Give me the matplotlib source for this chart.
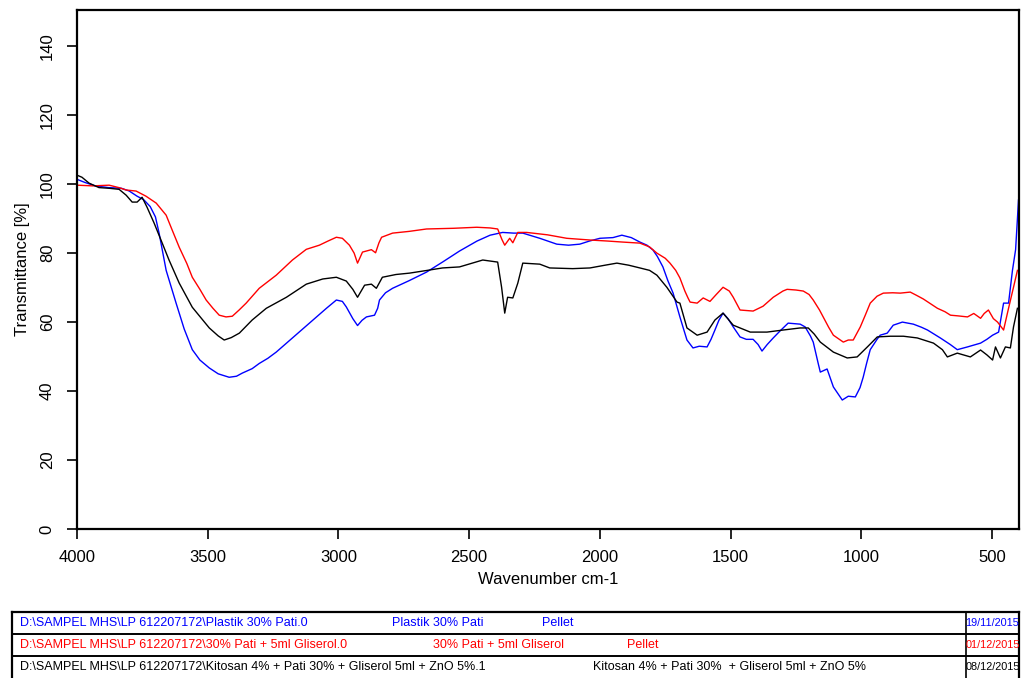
import matplotlib
matplotlib.use("Agg")
import matplotlib.pyplot as plt

plt.rcParams["font.family"] = ["Liberation Sans", "DejaVu Sans"]

# FTIR spectra (wavenumber cm-1, transmittance %)
BLUE_WN = [4000, 3970, 3930, 3880, 3830, 3800, 3770, 3745, 3720, 3700, 3686, 3659, 3621, 3590,
           3559, 3530, 3494, 3460, 3418, 3390, 3368, 3330, 3303, 3270, 3238, 3176, 3111, 3046,
           3008, 2985, 2970, 2945, 2927, 2910, 2893, 2862, 2850, 2843, 2820, 2793, 2730, 2663,
           2600, 2537, 2470, 2420, 2372, 2330, 2295, 2230, 2165, 2120, 2077, 2040, 2000, 1950,
           1916, 1880, 1847, 1820, 1797, 1780, 1759, 1740, 1720, 1694, 1680, 1667, 1644, 1620,
           1590, 1575, 1560, 1545, 1529, 1510, 1490, 1464, 1440, 1414, 1395, 1380, 1360, 1337,
           1310, 1280, 1234, 1215, 1195, 1184, 1165, 1157, 1131, 1107, 1073, 1050, 1023, 1005,
           993, 980, 966, 940, 928, 901, 878, 843, 801, 770, 747, 698, 660, 633, 594, 544, 520,
           498, 475, 456, 437, 422, 410, 403, 399]
BLUE_T = [101.4, 100.5, 99.5, 99.0, 98.8, 98.0, 96.5, 95.5, 93.5, 90.5, 85.8, 75.0, 65.5, 58.0,
          52.0, 49.0, 46.7, 45.0, 44.0, 44.3, 45.2, 46.5, 48.0, 49.5, 51.3, 55.4, 59.7, 64.0,
          66.4, 66.0, 64.4, 61.0, 59.0, 60.5, 61.5, 62.0, 64.0, 66.4, 68.5, 69.8, 72.0, 74.5,
          77.5, 80.6, 83.5, 85.2, 86.0, 85.8, 85.8, 84.3, 82.6, 82.3, 82.6, 83.5, 84.3, 84.5,
          85.2, 84.5, 83.2, 82.3, 80.9, 79.0, 76.0, 72.0, 68.4, 61.5, 58.0, 54.8, 52.5, 53.0,
          52.8, 55.0, 57.7, 60.5, 62.6, 61.0, 58.6, 55.7, 55.0, 55.0, 53.5, 51.6, 53.5, 55.4,
          57.5, 59.7, 59.4, 58.6, 56.0, 54.2, 48.0, 45.5, 46.4, 41.2, 37.4, 38.5, 38.3, 41.0,
          44.0, 48.0, 52.0, 55.0, 56.2, 56.8, 59.1, 60.0, 59.4, 58.5, 57.7, 55.4, 53.5, 52.0,
          52.8, 53.9, 55.0, 56.2, 57.1, 65.5, 65.5, 75.0, 81.0, 90.0, 95.4]

RED_WN = [4000, 3940, 3877, 3840, 3812, 3774, 3736, 3697, 3659, 3636, 3609, 3580, 3559, 3530,
          3506, 3480, 3456, 3430, 3406, 3380, 3353, 3303, 3238, 3176, 3123, 3073, 3040, 3008,
          2985, 2958, 2940, 2927, 2908, 2874, 2858, 2845, 2835, 2793, 2730, 2663, 2560, 2471,
          2420, 2391, 2375, 2364, 2345, 2333, 2314, 2280, 2200, 2127, 2038, 1970, 1912, 1847,
          1810, 1782, 1750, 1732, 1710, 1694, 1675, 1663, 1655, 1628, 1605, 1579, 1555, 1529,
          1505, 1490, 1464, 1414, 1376, 1337, 1300, 1284, 1250, 1222, 1200, 1184, 1160, 1146,
          1125, 1107, 1069, 1050, 1031, 1004, 985, 966, 940, 916, 880, 851, 813, 790, 763, 735,
          709, 680, 659, 630, 594, 570, 544, 530, 514, 495, 479, 456, 437, 418, 403]
RED_T = [99.7, 99.5, 99.7, 99.0, 98.3, 98.0, 96.5, 94.5, 91.0, 86.7, 81.7, 77.0, 73.0, 69.5,
         66.4, 64.0, 62.0, 61.5, 61.7, 63.5, 65.5, 69.8, 73.6, 78.0, 81.1, 82.3, 83.5, 84.6,
         84.3, 82.3, 80.0, 77.1, 80.3, 81.0, 80.1, 83.0, 84.6, 85.8, 86.3, 87.0, 87.2, 87.5,
         87.3, 87.0, 84.0, 82.3, 84.3, 83.0, 86.0, 86.0, 85.3, 84.3, 83.8, 83.5, 83.2, 82.9,
         81.8, 80.0, 78.5, 77.1, 75.0, 72.8, 69.0, 67.0, 65.8, 65.5, 67.0, 66.0, 68.0, 70.1,
         69.0, 67.2, 63.5, 63.2, 64.6, 67.2, 69.0, 69.5, 69.3, 69.0, 68.0, 66.4, 63.5, 61.5,
         58.5, 56.2, 54.2, 54.8, 54.8, 58.6, 62.0, 65.5, 67.5, 68.4, 68.5, 68.4, 68.7, 67.8,
         66.7, 65.3, 64.0, 63.0, 62.0, 61.8, 61.5, 62.5, 61.1, 62.5, 63.5, 61.0, 60.0, 57.7,
         64.0, 70.1, 75.0]

BLACK_WN = [4000, 3981, 3954, 3916, 3877, 3839, 3812, 3789, 3770, 3751, 3732, 3705, 3674, 3648,
            3609, 3559, 3494, 3460, 3437, 3410, 3379, 3330, 3276, 3199, 3123, 3060, 3008, 2970,
            2945, 2927, 2900, 2874, 2855, 2832, 2780, 2728, 2660, 2602, 2537, 2448, 2391, 2376,
            2364, 2353, 2333, 2314, 2295, 2230, 2192, 2104, 2038, 1980, 1935, 1890, 1847, 1810,
            1782, 1744, 1705, 1694, 1667, 1628, 1590, 1560, 1529, 1490, 1425, 1361, 1299, 1234,
            1203, 1180, 1157, 1107, 1054, 1016, 977, 939, 889, 839, 786, 724, 690, 671, 633, 583,
            544, 520, 498, 487, 468, 449, 430, 418, 403]
BLACK_T = [102.6, 102.0, 100.3, 99.0, 98.8, 98.5, 96.8, 94.8, 94.8, 96.2, 93.3, 88.7, 82.9, 78.0,
           71.3, 64.3, 58.3, 56.0, 54.8, 55.5, 56.8, 60.6, 64.0, 67.2, 71.0, 72.5, 73.0, 71.9,
           69.5, 67.2, 70.7, 71.0, 69.8, 73.0, 73.8, 74.2, 75.0, 75.7, 76.0, 78.0, 77.4, 70.1,
           62.6, 67.2, 67.0, 71.3, 77.1, 76.8, 75.7, 75.5, 75.7, 76.5, 77.1, 76.5, 75.7, 75.0,
           73.6, 70.1, 65.8, 65.5, 58.3, 56.2, 57.1, 60.6, 62.6, 59.1, 57.1, 57.1, 57.7, 58.3,
           58.3, 56.5, 54.2, 51.3, 49.6, 49.9, 52.8, 55.7, 55.9, 55.9, 55.4, 53.9, 52.0, 49.9,
           51.0, 49.9, 51.9, 50.5, 49.0, 52.8, 49.6, 52.8, 52.5, 58.6, 64.0]

X_TICKS = [4000, 3500, 3000, 2500, 2000, 1500, 1000, 500]
Y_TICKS = [0, 20, 40, 60, 80, 100, 120, 140]

# legend table rows: (path, sample name, form, date, colour)
ROW_PATHS = ["D:\\SAMPEL MHS\\LP 612207172\\Plastik 30% Pati.0",
             "D:\\SAMPEL MHS\\LP 612207172\\30% Pati + 5ml Gliserol.0",
             "D:\\SAMPEL MHS\\LP 612207172\\Kitosan 4% + Pati 30% + Gliserol 5ml + ZnO 5%.1"]
ROW_NAMES = ["Plastik 30% Pati", "30% Pati + 5ml Gliserol",
             "Kitosan 4% + Pati 30%  + Gliserol 5ml + ZnO 5%"]
ROW_FORMS = ["Pellet", "Pellet", ""]
ROW_DATES = ["19/11/2015", "01/12/2015", "08/12/2015"]
ROW_COLORS = ["#0000ff", "#ff0000", "#000000"]


def main():
    fig = plt.figure(figsize=(10.21, 6.78), dpi=100)
    W, H = 1021, 678

    ax = fig.add_axes([77 / W, 1 - 529 / H, (1019 - 77) / W, (529 - 10) / H])
    ax.plot(BLUE_WN, BLUE_T, color=ROW_COLORS[0], lw=1.0)
    ax.plot(RED_WN, RED_T, color=ROW_COLORS[1], lw=1.0)
    ax.plot(BLACK_WN, BLACK_T, color=ROW_COLORS[2], lw=1.0)

    ax.set_xlim(4000, 397)
    ax.set_ylim(0, 150.5)
    ax.set_xticks(X_TICKS)
    ax.set_yticks(Y_TICKS)
    ax.tick_params(direction="out", length=7, width=1.2, labelsize=12, colors="#000000")
    ax.tick_params(axis="x", pad=8)
    ax.tick_params(axis="y", pad=9)
    for lab in ax.get_yticklabels():
        lab.set_rotation(90)
        lab.set_va("center")
    for sp in ax.spines.values():
        sp.set_linewidth(1.6)
    ax.set_xlabel("Wavenumber cm-1", fontsize=12, labelpad=5)
    ax.set_ylabel("Transmittance [%]", fontsize=12, labelpad=7)

    # legend table below the plot, drawn in pixel coordinates
    tab = fig.add_axes([0, 0, 1, 1])
    tab.set_xlim(0, W)
    tab.set_ylim(H, 0)
    tab.axis("off")
    left, right, sep = 12, 1019, 966
    row_top = [612, 634, 656]
    row_h = 22
    tab.plot([left, right], [612, 612], color="black", lw=1.6)
    tab.plot([left, left], [612, H], color="black", lw=1.6)
    tab.plot([right, right], [612, H], color="black", lw=1.6)
    tab.plot([sep, sep], [612, H], color="black", lw=1.2)
    for y in row_top[1:]:
        tab.plot([left, right], [y, y], color="black", lw=1.4)

    name_x = [392, 433, 593]
    form_x = [542, 627, 0]
    for i in range(3):
        yc = row_top[i] + row_h / 2
        c = ROW_COLORS[i]
        tab.text(20, yc, ROW_PATHS[i], color=c, fontsize=9, va="center", ha="left")
        tab.text(name_x[i], yc, ROW_NAMES[i], color=c, fontsize=9, va="center", ha="left")
        if ROW_FORMS[i]:
            tab.text(form_x[i], yc, ROW_FORMS[i], color=c, fontsize=9, va="center", ha="left")
        tab.text(992.5, yc, ROW_DATES[i], color=c, fontsize=7.8, va="center", ha="center")

    fig.savefig("out.png", dpi=100)


if __name__ == "__main__":
    main()
